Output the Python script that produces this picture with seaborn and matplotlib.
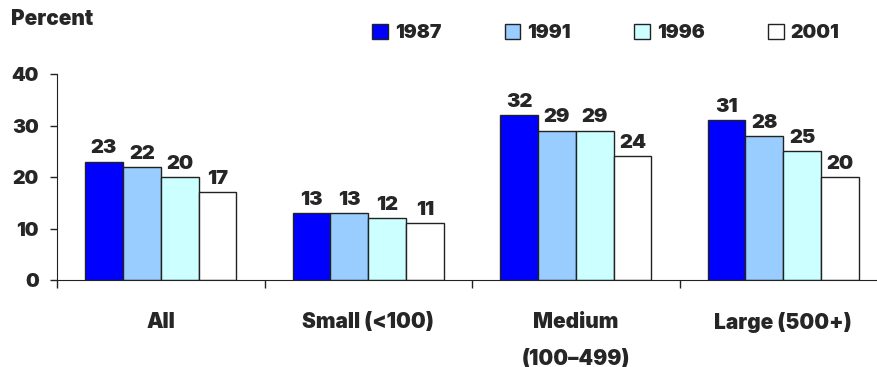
import matplotlib
matplotlib.use("Agg")
import matplotlib.pyplot as plt
import seaborn as sns
import pandas as pd

# Share of workers by establishment size, by survey year
categories = ["All", "Small (<100)", "Medium\n(100\u2013499)", "Large (500+)"]
years = ["1987", "1991", "1996", "2001"]
values_1987 = [23, 13, 32, 31]
values_1991 = [22, 13, 29, 28]
values_1996 = [20, 12, 29, 25]
values_2001 = [17, 11, 24, 20]
colors = ["#0000FF", "#99CCFF", "#CCFFFF", "#FFFFFF"]
y_ticks = [0, 10, 20, 30, 40]

series = [values_1987, values_1991, values_1996, values_2001]
df = pd.DataFrame(
    [(c, y, v) for y, vals in zip(years, series) for c, v in zip(categories, vals)],
    columns=["category", "year", "value"],
)

sns.set_style("white")
plt.rcParams["font.family"] = ["Inter", "DejaVu Sans"]
plt.rcParams["font.weight"] = "black"
W = "black"

fig = plt.figure(figsize=(8.78, 3.67), dpi=100)
ax = fig.add_axes([57 / 878, 1 - 280 / 367, 830 / 878, 206 / 367])

sns.barplot(
    data=df, x="category", y="value", hue="year",
    order=categories, hue_order=years,
    palette=dict(zip(years, colors)),
    width=0.73, edgecolor="#222222", linewidth=1.0,
    saturation=1, ax=ax, legend=False,
)

for cont in ax.containers:
    ax.bar_label(cont, fmt="%d", padding=3, fontsize=14.5, fontweight=W)

ax.set_xlim(-0.5, 3.5)
ax.set_ylim(0, 40)
ax.set_yticks(y_ticks)
ax.set_yticklabels([str(t) for t in y_ticks], fontsize=14, fontweight=W)
ax.set_xlabel("")
ax.set_ylabel("")

# Category labels sit between boundary ticks
ax.set_xticks([-0.5, 0.5, 1.5, 2.5])
ax.set_xticklabels([])
for i, c in enumerate(categories):
    ax.text(i, -6.2, c, ha="center", va="top", fontsize=15,
            fontweight=W, linespacing=2.05)

for side in ["top", "right"]:
    ax.spines[side].set_visible(False)
ax.spines["left"].set_color("#222222")
ax.spines["bottom"].set_color("#222222")
ax.tick_params(axis="y", direction="out", length=5, width=1, color="#222222", pad=8, left=True)
ax.tick_params(axis="x", direction="out", length=6, width=1, color="#222222", bottom=True)

fig.text(11 / 878, 1 - 19 / 367, "Percent", ha="left", va="center",
         fontsize=15, fontweight=W)

handles = [plt.Rectangle((0, 0), 1, 1, facecolor=c, edgecolor="#222222", linewidth=1)
           for c in colors]
fig.legend(handles, years, loc="center left", bbox_to_anchor=(355 / 878, 1 - 33 / 367),
           ncol=4, frameon=False, handlelength=0.8, handleheight=0.8,
           handletextpad=0.35, columnspacing=3.27,
           prop={"size": 14, "weight": W})

fig.savefig("out.png", dpi=100)
